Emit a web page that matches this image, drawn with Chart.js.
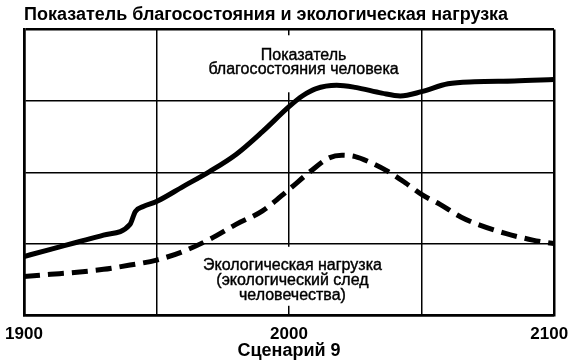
<!DOCTYPE html>
<html>
<head>
<meta charset="utf-8">
<script src="https://cdn.jsdelivr.net/npm/chart.js@4.4.1/dist/chart.umd.min.js"></script>
<style>
	html, body { margin: 0; padding: 0; background: #fff; }
	#wrap { width: 570px; height: 362px; }
</style>
</head>
<body>
<div id="wrap"><canvas id="chart"></canvas></div>
<script>
const welfareYears = [1900, 1910, 1920, 1930, 1940, 1942, 1945, 1950, 1960, 1970, 1980, 1990, 2000, 2005, 2010, 2018, 2025, 2035, 2042, 2050, 2060, 2070, 2085, 2100],
	welfareValues = [0.82, 0.92, 1.02, 1.12, 1.27, 1.45, 1.52, 1.59, 1.80, 2.01, 2.25, 2.57, 2.92, 3.07, 3.17, 3.22, 3.19, 3.11, 3.07, 3.13, 3.24, 3.27, 3.28, 3.30],
	ecoYears = [1900, 1910, 1920, 1930, 1940, 1950, 1960, 1970, 1980, 1990, 2000, 2008, 2015, 2020, 2025, 2030, 2037, 2044, 2050, 2057, 2065, 2072, 2082, 2092, 2100],
	ecoValues = [0.54, 0.57, 0.60, 0.64, 0.70, 0.77, 0.89, 1.06, 1.27, 1.46, 1.76, 2.01, 2.20, 2.24, 2.22, 2.15, 2.02, 1.85, 1.69, 1.55, 1.37, 1.26, 1.14, 1.05, 1.00],
	xTickLabels = ['1900', '2000', '2100'],
	chartTitle = 'Показатель благосостояния и экологическая нагрузка',
	axisTitle = 'Сценарий 9',
	welfareLabel = ['Показатель', 'благосостояния человека'],
	ecoLabel = ['Экологическая нагрузка', '(экологический след', 'человечества)']

const d = document,
	$canvas = d.getElementById('chart'),
	FONT = '"Liberation Sans", Arial, sans-serif'

const toPoints = (xs, ys) => xs.map((x, i) => ({ x, y: ys[i] }))

// подписи кривых на белой подложке
const labelsPlugin = {
	id: 'curveLabels',
	beforeDatasetsDraw(chart) {
		const { ctx, scales } = chart
		const drawBlock = (lines, xv, yv, lh, box) => {
			const cx = scales.x.getPixelForValue(xv),
				cy = scales.y.getPixelForValue(yv)
			ctx.save()
			ctx.fillStyle = '#fff'
			ctx.fillRect(cx - box.w / 2, cy - box.up, box.w, box.h)
			ctx.fillStyle = '#000'
			ctx.strokeStyle = '#000'
			ctx.lineWidth = 0.4
			ctx.font = `16px ${FONT}`
			ctx.textAlign = 'center'
			ctx.textBaseline = 'middle'
			lines.forEach((t, i) => {
				ctx.fillText(t, cx, cy + i * lh)
				ctx.strokeText(t, cx, cy + i * lh)
			})
			ctx.restore()
		}
		drawBlock(welfareLabel, 2005.5, 3.64, 14.5, { w: 200, up: 20, h: 57 })
		drawBlock(ecoLabel, 2001.3, 0.69, 15, { w: 192, up: 19, h: 59 })
	}
}

const edgeWidth = (ctx, lo, hi) => (ctx.tick.value === lo || ctx.tick.value === hi) ? 2.5 : 1.5

new Chart($canvas, {
	type: 'line',
	data: {
		datasets: [
			{
				data: toPoints(welfareYears, welfareValues),
				borderColor: '#000',
				borderWidth: 5,
				pointRadius: 0,
				cubicInterpolationMode: 'monotone',
				fill: false
			},
			{
				data: toPoints(ecoYears, ecoValues),
				borderColor: '#000',
				borderWidth: 5,
				borderDash: [16, 8],
				pointRadius: 0,
				cubicInterpolationMode: 'monotone',
				fill: false
			}
		]
	},
	options: {
		responsive: true,
		maintainAspectRatio: false,
		animation: false,
		layout: { padding: { left: 24, right: 16, top: 0, bottom: 0 } },
		plugins: {
			legend: { display: false },
			tooltip: { enabled: false },
			title: {
				display: true,
				text: chartTitle,
				align: 'start',
				color: '#000',
				font: { family: FONT, size: 18, weight: 'bold' },
				padding: { top: 4, bottom: 4 }
			}
		},
		scales: {
			x: {
				type: 'linear',
				min: 1900,
				max: 2100,
				border: { display: true, color: '#000', width: 2.5 },
				grid: {
					color: '#000',
					drawTicks: false,
					lineWidth: (ctx) => edgeWidth(ctx, 1900, 2100)
				},
				ticks: {
					stepSize: 50,
					autoSkip: false,
					maxRotation: 0,
					padding: 9,
					color: '#000',
					font: { family: FONT, size: 17, weight: 'bold' },
					// последняя подпись чуть сдвинута влево, как в оригинале
					callback: (v) => v === 2100 ? '2100  ' : (xTickLabels.includes(String(v)) ? String(v) : '')
				},
				title: {
					display: true,
					text: axisTitle,
					color: '#000',
					font: { family: FONT, size: 18, weight: 'bold' },
					padding: { top: 0, bottom: 0 }
				},
				afterFit: (scale) => {
					scale.height = 47
					scale.paddingLeft = 0
					scale.paddingRight = 0
				}
			},
			y: {
				min: 0,
				max: 4,
				border: { display: true, color: '#000', width: 2.5 },
				grid: {
					color: '#000',
					drawTicks: false,
					lineWidth: (ctx) => edgeWidth(ctx, 0, 4)
				},
				ticks: { display: false, stepSize: 1 }
			}
		}
	},
	plugins: [labelsPlugin]
})
</script>
</body>
</html>
